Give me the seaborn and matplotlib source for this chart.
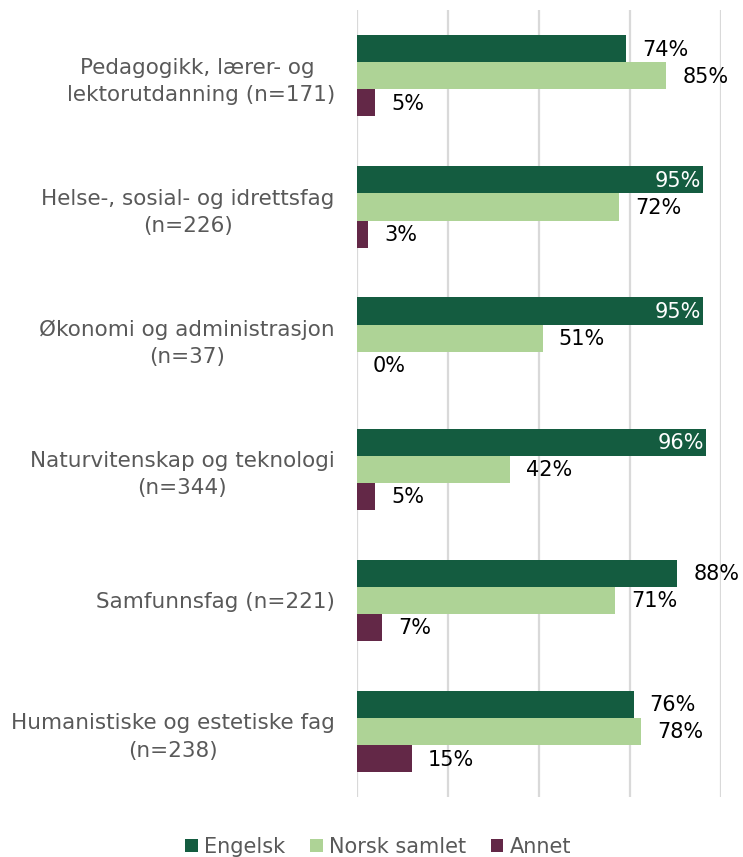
import matplotlib

matplotlib.use("Agg")
import matplotlib.pyplot as plt
import pandas as pd
import seaborn as sns

MORK_GRONN = "#145C40"
LYS_GRONN = "#AED396"
LILLA = "#632847"
GRA_TEKST = "#595959"
GRA_LINJE = "#D9D9D9"

kategorier = [
    "Pedagogikk, lærer- og \nlektorutdanning (n=171)",
    "Helse-, sosial- og idrettsfag\n(n=226)",
    "Økonomi og administrasjon\n(n=37)",
    "Naturvitenskap og teknologi\n(n=344)",
    "Samfunnsfag (n=221)",
    "Humanistiske og estetiske fag\n(n=238)",
]
serier = ["Engelsk", "Norsk samlet", "Annet"]
engelsk = [0.74, 0.95, 0.95, 0.96, 0.88, 0.76]
norsk = [0.85, 0.72, 0.51, 0.42, 0.71, 0.78]
annet = [0.05, 0.03, 0.00, 0.05, 0.07, 0.15]

df = pd.DataFrame({
    "kategori": kategorier * 3,
    "serie": [s for s in serier for _ in kategorier],
    "andel": engelsk + norsk + annet,
})

sns.set_theme(style="white")
plt.rcParams["font.family"] = ["DejaVu Sans"]

fig = plt.figure(figsize=(7.43, 8.57), dpi=100)
ax = fig.add_axes([0.4805, 0.07, 0.4899, 0.918])

sns.barplot(data=df, y="kategori", x="andel", hue="serie", hue_order=serier,
            order=kategorier, orient="h", width=0.62, saturation=1, linewidth=0,
            palette=[MORK_GRONN, LYS_GRONN, LILLA], ax=ax)

ax.set_xlim(0, 1)
ax.set_xticks([0, 0.25, 0.5, 0.75, 1.0])
ax.set_xticklabels([])
ax.grid(axis="x", color=GRA_LINJE, linewidth=1.6)
ax.set_axisbelow(True)
for s in ax.spines.values():
    s.set_visible(False)
ax.set_xlabel("")
ax.set_ylabel("")
ax.tick_params(axis="x", length=0)
ax.tick_params(axis="y", length=0, pad=16, labelsize=15.5, labelcolor=GRA_TEKST)
for t in ax.get_yticklabels():
    t.set_multialignment("center")
    t.set_linespacing(1.45)

# verdietiketter: inne i søylen (hvit) når engelsk-søylen når helt ut
for i, container in enumerate(ax.containers):
    for bar in container:
        v = bar.get_width()
        y = bar.get_y() + bar.get_height() / 2
        tekst = f"{v * 100:.0f}%"
        if i == 0 and v > 0.94:
            ax.annotate(tekst, (v, y), xytext=(-2, -1), textcoords="offset pixels",
                        ha="right", va="center", fontsize=15, color="white")
        else:
            ax.annotate(tekst, (v, y), xytext=(16, -1), textcoords="offset pixels",
                        ha="left", va="center", fontsize=15, color="black",
                        annotation_clip=False)

handles, labels = ax.get_legend_handles_labels()
ax.get_legend().remove()
fig.legend(handles, labels, loc="center", bbox_to_anchor=(0.509, 0.012), ncol=3,
           frameon=False, fontsize=15, handlelength=0.6, handleheight=0.6,
           handletextpad=0.3, columnspacing=1.2, labelcolor=GRA_TEKST)

fig.savefig("out.png", dpi=100)
